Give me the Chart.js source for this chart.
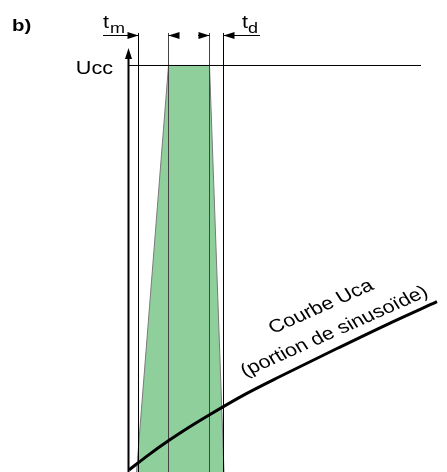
<!DOCTYPE html>
<html>
<head>
<meta charset="utf-8">
<script src="https://cdn.jsdelivr.net/npm/chart.js@4/dist/chart.umd.min.js"></script>
<style>
  body { margin: 0; background: #fff; }
  #wrap { width: 447px; height: 472px; }
</style>
</head>
<body>
<div id="wrap"><canvas id="graphe" width="447" height="472"></canvas></div>
<script>
// temps (unités arbitraires), tension en % de Ucc
const ucc = 100;
const tRampe = [2.5, 10, 20.25, 23.75];      // début montée, plein Ucc, fin Ucc, fin descente
const tBasTrapeze = [2.0, 23.875];           // pied du trapèze
const finUcc = 73.125;
const courbeT = [0.125, 4.875, 9.875, 15.125, 20.375, 29.125, 37.875, 52.375, 64.875, 77.125];
const courbeU = [0.5, 4.1, 7.6, 11.0, 14.15, 19.1, 23.5, 30.5, 36.4, 41.9];
const cotes = [[-6.375, 2.5], [10, 12.375], [17.375, 20.25], [23.75, 32.875]];
const niveauCote = 107.38;
const hautAxe = 104.3;

const pts = (xs, ys) => xs.map((x, i) => ({ x: x, y: ys[i] }));
const segs = (liste, y0, y1) => {
  const out = [];
  liste.forEach(s => { out.push({ x: s[0], y: y0 }, { x: s[1], y: y1 }, { x: null, y: null }); });
  return out;
};

const trapeze = [
  { x: tBasTrapeze[0], y: 0 },
  { x: tRampe[1], y: ucc },
  { x: tRampe[2], y: ucc },
  { x: tBasTrapeze[1], y: 0 }
];
const vertNoires = [[tRampe[0], tRampe[0]], [tRampe[3], tRampe[3]]];
const vertGrises = [[tRampe[1], tRampe[1]], [tRampe[2], tRampe[2]]];

const fleches = [
  { x: tRampe[0], y: niveauCote, dir: 1 },
  { x: tRampe[1], y: niveauCote, dir: -1 },
  { x: tRampe[2], y: niveauCote, dir: 1 },
  { x: tRampe[3], y: niveauCote, dir: -1 }
];

const dessins = {
  id: 'dessins',
  afterDatasetsDraw(chart) {
    const ctx = chart.ctx;
    const sx = chart.scales.x, sy = chart.scales.y;
    ctx.save();
    ctx.fillStyle = '#000';
    // pointes des cotes
    fleches.forEach(f => {
      const px = sx.getPixelForValue(f.x), py = sy.getPixelForValue(f.y);
      ctx.beginPath();
      ctx.moveTo(px, py);
      ctx.lineTo(px - f.dir * 11, py - 3.5);
      ctx.lineTo(px - f.dir * 11, py + 3.5);
      ctx.closePath();
      ctx.fill();
    });
    // pointe de l'axe
    const ax = sx.getPixelForValue(0), ay = sy.getPixelForValue(hautAxe);
    ctx.beginPath();
    ctx.moveTo(ax, ay);
    ctx.lineTo(ax - 3.5, ay + 11);
    ctx.lineTo(ax + 3.5, ay + 11);
    ctx.closePath();
    ctx.fill();

    const texte = (str, x, y, font, align, base, angle) => {
      ctx.save();
      ctx.translate(x, y);
      ctx.scale(1.2, 1);
      ctx.rotate(angle || 0);
      ctx.font = font;
      ctx.textAlign = align;
      ctx.textBaseline = base;
      ctx.fillText(str, 0, 0);
      ctx.restore();
    };
    const f18 = '18px "Liberation Sans", Arial, sans-serif';
    const f15 = '15px "Liberation Sans", Arial, sans-serif';
    texte('b)', 12, 31, 'bold 17px "Liberation Sans", Arial, sans-serif', 'left', 'alphabetic');
    texte('Ucc', 113, 74, f18, 'right', 'alphabetic');
    texte('t', 103, 28, f18, 'left', 'alphabetic');
    texte('m', 110, 33, f15, 'left', 'alphabetic');
    texte('t', 242, 28, f18, 'left', 'alphabetic');
    texte('d', 248, 33, f15, 'left', 'alphabetic');
    const a = -28 * Math.PI / 180;
    texte('Courbe Uca', 273, 334, f18, 'left', 'alphabetic', a);
    texte('(portion de sinusoïde)', 245, 377, f18, 'left', 'alphabetic', a);
    ctx.restore();
  }
};

new Chart(document.getElementById('graphe'), {
  type: 'scatter',
  data: {
    datasets: [
      {
        data: trapeze, showLine: true, fill: 'origin',
        backgroundColor: 'rgb(143,207,156)', borderColor: '#7a7a7a', borderWidth: 1,
        pointRadius: 0, order: 5
      },
      {
        data: segs(vertGrises, 0, 108), showLine: true, spanGaps: false,
        borderColor: '#444', borderWidth: 1, pointRadius: 0, order: 4
      },
      {
        data: segs(vertNoires, 0, 108), showLine: true, spanGaps: false,
        borderColor: '#000', borderWidth: 1, pointRadius: 0, order: 4
      },
      {
        data: [{ x: 0, y: ucc }, { x: finUcc, y: ucc }], showLine: true,
        borderColor: '#000', borderWidth: 1, pointRadius: 0, order: 3
      },
      {
        data: segs(cotes, niveauCote, niveauCote), showLine: true, spanGaps: false,
        borderColor: '#000', borderWidth: 1, pointRadius: 0, order: 3
      },
      {
        data: [{ x: 0, y: -1 }, { x: 0, y: hautAxe - 2 }], showLine: true,
        borderColor: '#000', borderWidth: 2, pointRadius: 0, order: 2
      },
      {
        data: pts(courbeT, courbeU), showLine: true, cubicInterpolationMode: 'monotone',
        borderColor: '#000', borderWidth: 3, pointRadius: 0, order: 1
      }
    ]
  },
  options: {
    responsive: false,
    animation: false,
    layout: { padding: 0 },
    plugins: { legend: { display: false }, tooltip: { enabled: false } },
    scales: {
      x: { type: 'linear', min: -32.125, max: 79.625, display: false },
      y: { type: 'linear', min: 0, max: 116.11, display: false }
    }
  },
  plugins: [dessins]
});
</script>
</body>
</html>
